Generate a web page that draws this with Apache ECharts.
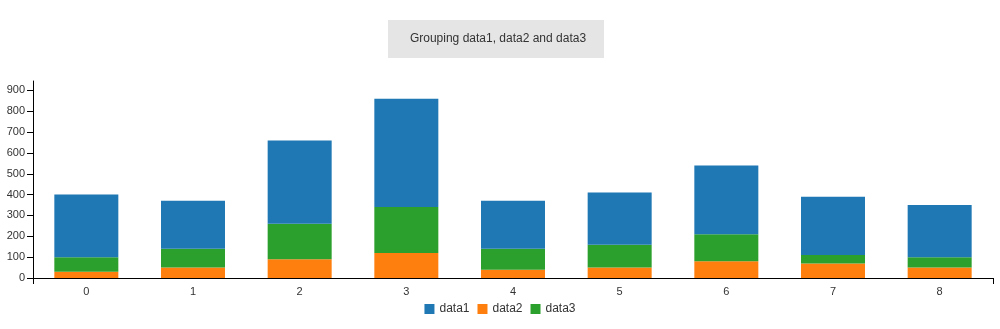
<!DOCTYPE html>
<html>
<head>
<meta charset="utf-8">
<script src="https://cdn.jsdelivr.net/npm/echarts@6/dist/echarts.min.js"></script>
<style>
  html, body { margin: 0; padding: 0; background: #fff; }
  #chart { width: 1000px; height: 329px; }
</style>
</head>
<body>
<div id="chart"></div>
<script>
// Categories and stacked series values
var categories = ['0', '1', '2', '3', '4', '5', '6', '7', '8'];
var data1 = [300, 230, 400, 520, 230, 250, 330, 280, 250];
var data2 = [30, 50, 90, 120, 40, 50, 80, 70, 50];
var data3 = [70, 90, 170, 220, 100, 110, 130, 40, 50];
var yTicks = [0, 100, 200, 300, 400, 500, 600, 700, 800, 900];

var FONT = '"Liberation Sans", Arial, sans-serif';
var colors = { data1: '#1f77b4', data2: '#ff7f0e', data3: '#2ca02c' };

var chart = echarts.init(document.getElementById('chart'), null, { renderer: 'canvas' });

var option = {
  animation: false,
  backgroundColor: '#ffffff',
  textStyle: { fontFamily: FONT },
  graphic: [
    {
      type: 'group',
      left: 388,
      top: 20,
      children: [
        { type: 'rect', shape: { x: 0, y: 0, width: 216, height: 38 }, style: { fill: '#e5e5e5' } },
        {
          type: 'text', x: 110, y: 19,
          style: {
            text: 'Grouping data1, data2 and data3',
            fill: '#333', font: '12px ' + FONT,
            textAlign: 'center', textVerticalAlign: 'middle'
          }
        }
      ]
    }
  ],
  legend: {
    data: ['data1', 'data2', 'data3'],
    top: 298,
    left: 'center',
    itemWidth: 10,
    itemHeight: 10,
    itemGap: 8,
    icon: 'rect',
    textStyle: { fontSize: 12, color: '#333', fontFamily: FONT }
  },
  grid: { left: 33, right: 7, top: 81, bottom: 51, containLabel: false },
  xAxis: [
    {
      type: 'category',
      data: categories,
      boundaryGap: true,
      axisLine: { lineStyle: { color: '#000', width: 1 } },
      axisTick: { alignWithLabel: true, length: 6, lineStyle: { color: '#000' } },
      axisLabel: { color: '#333', fontSize: 11, margin: 8, fontFamily: FONT }
    },
    {
      // outer end ticks of the horizontal axis
      type: 'value',
      position: 'bottom',
      min: 0, max: 1, interval: 1,
      axisLine: { show: false },
      axisTick: { show: true, length: 6, lineStyle: { color: '#000' } },
      axisLabel: { show: false },
      splitLine: { show: false }
    }
  ],
  yAxis: {
    type: 'value',
    min: 0,
    max: 945,
    interval: 100,
    axisLine: { show: true, lineStyle: { color: '#000', width: 1 } },
    axisTick: { show: true, length: 6, lineStyle: { color: '#000' } },
    axisLabel: {
      color: '#333', fontSize: 11, margin: 8, fontFamily: FONT,
      showMaxLabel: false,
      formatter: function (v) { return yTicks.indexOf(v) >= 0 ? String(v) : ''; }
    },
    splitLine: { show: false }
  },
  series: [
    { name: 'data2', type: 'bar', stack: 'g', data: data2, barWidth: '60%', itemStyle: { color: colors.data2 } },
    { name: 'data3', type: 'bar', stack: 'g', data: data3, barWidth: '60%', itemStyle: { color: colors.data3 } },
    { name: 'data1', type: 'bar', stack: 'g', data: data1, barWidth: '60%', itemStyle: { color: colors.data1 } }
  ]
};

chart.setOption(option);
</script>
</body>
</html>
